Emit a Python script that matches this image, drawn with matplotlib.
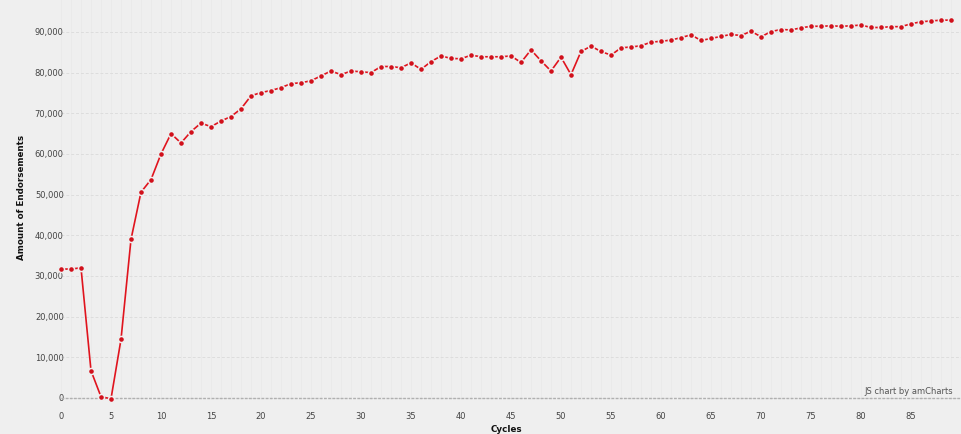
import numpy as np
import matplotlib
matplotlib.use('Agg')
from matplotlib import pyplot as plt
from matplotlib.ticker import FuncFormatter, MultipleLocator

# endorsements per cycle
cycles = list(range(90))
endorsements = [
    31700, 31700, 32000, 6700, 300, -200, 14400, 39000, 50600, 53700,
    60000, 65000, 62700, 65500, 67600, 66700, 68100, 69200, 71100, 74300,
    75100, 75600, 76300, 77300, 77500, 78000, 79200, 80400, 79500, 80400,
    80200, 80000, 81500, 81500, 81200, 82400, 80800, 82700, 84100, 83500,
    83400, 84300, 83900, 83900, 83900, 84100, 82500, 85600, 82900, 80400,
    83800, 79500, 85200, 86500, 85200, 84300, 86100, 86300, 86600, 87500,
    87700, 88000, 88600, 89300, 87900, 88400, 88900, 89400, 89100, 90200,
    88800, 90100, 90600, 90500, 91000, 91400, 91400, 91500, 91400, 91500,
    91700, 91100, 91100, 91300, 91300, 92000, 92500, 92700, 92900, 92900,
]
x_ticks = list(range(0, 90, 5))
y_ticks = list(range(0, 100000, 10000))

bg = '#efefef'
red = '#e0141e'

fig = plt.figure(figsize=(9.61, 4.34), dpi=100, facecolor=bg)
ax = fig.add_axes([61 / 961, 0.0774, 1 - 61 / 961, 0.923], facecolor=bg)

ax.set_xlim(0, 90)
ax.set_ylim(-600, 97900)

# grid
ax.xaxis.set_minor_locator(MultipleLocator(1))
ax.grid(which='minor', axis='x', color='#e8e8e8', linewidth=0.5)
ax.grid(which='major', axis='x', color='#e8e8e8', linewidth=0.5)
ax.set_yticks(y_ticks)
ax.grid(which='major', axis='y', color='#dddddd', linewidth=0.7, linestyle=(0, (3, 2)))
ax.axhline(0, color='#b0b0b0', linewidth=1.0, linestyle=(0, (2, 1)), zorder=2)

for s in ax.spines.values():
    s.set_visible(False)

# solid line, bullets with a background-coloured border
ax.plot(cycles, endorsements, color=red, linewidth=1.2,
        marker='o', markersize=4.4, markerfacecolor='#d1101b', markeredgecolor=bg,
        markeredgewidth=1.1, zorder=3, clip_on=False)

ax.set_xticks(x_ticks)
ax.yaxis.set_major_formatter(FuncFormatter(lambda v, p: f'{int(v):,}'))
ax.tick_params(axis='both', which='both', length=0, labelsize=6, colors='#444444')
ax.tick_params(axis='x', pad=8)
ax.tick_params(axis='y', pad=-2)

fig.text(22 / 961, 1 - 197 / 434, 'Amount of Endorsements', rotation=90, fontsize=6.3,
         fontweight='bold', ha='center', va='center', color='#111111')
fig.text(506 / 961, 1 - 430 / 434, 'Cycles', fontsize=6.3, fontweight='bold',
         ha='center', va='center', color='#111111')
fig.text(953 / 961, 1 - 392 / 434, 'JS chart by amCharts', fontsize=6, ha='right',
         va='center', color='#555555')

fig.savefig('out.png', dpi=100, facecolor=bg)
